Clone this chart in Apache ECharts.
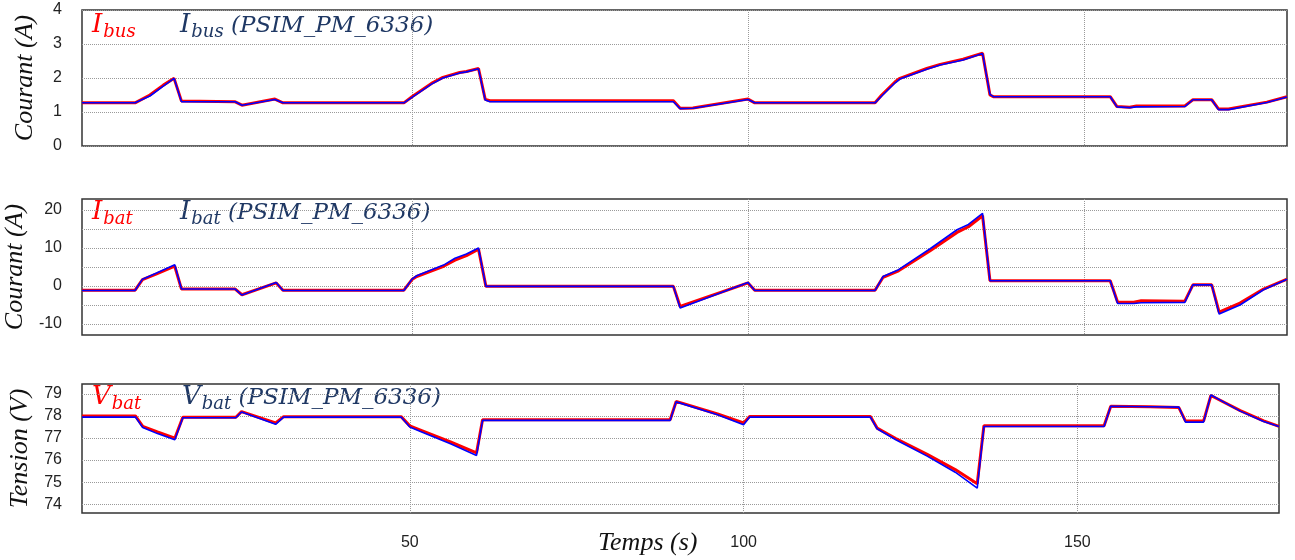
<!DOCTYPE html>
<html>
<head>
<meta charset="utf-8">
<script src="https://cdn.jsdelivr.net/npm/echarts@6/dist/echarts.min.js"></script>
<style>
  html, body { margin: 0; padding: 0; background: #fff; }
  #chart { width: 1295px; height: 560px; }
</style>
</head>
<body>
<div id="chart"></div>
<script>
// time (s) and values
var ibusTime = [0.9, 8.8, 11.0, 13.0, 14.6, 15.7, 23.7, 24.7, 29.6, 30.8, 48.8, 50.0, 52.9, 54.6, 57.1, 58.1, 59.9, 60.9, 61.6, 88.9, 89.9, 91.8, 100.0, 101.0, 118.9, 119.9, 121.9, 122.6, 126.6, 128.6, 132.0, 134.9, 136.0, 136.5, 153.9, 154.9, 156.8, 157.8, 165.0, 166.2, 169.0, 170.0, 171.5, 177.2, 180.2];
var ibusModel = [1.27, 1.27, 1.5, 1.79, 1.99, 1.32, 1.3, 1.2, 1.38, 1.27, 1.27, 1.45, 1.84, 2.02, 2.16, 2.19, 2.28, 1.37, 1.33, 1.33, 1.11, 1.12, 1.38, 1.27, 1.27, 1.5, 1.89, 1.99, 2.28, 2.4, 2.55, 2.73, 1.5, 1.45, 1.45, 1.16, 1.14, 1.18, 1.18, 1.36, 1.36, 1.09, 1.09, 1.29, 1.45];
var ibusPsim = [1.27, 1.27, 1.47, 1.76, 1.99, 1.3, 1.3, 1.2, 1.37, 1.27, 1.27, 1.43, 1.82, 2.0, 2.15, 2.18, 2.27, 1.35, 1.3, 1.3, 1.1, 1.11, 1.37, 1.27, 1.27, 1.47, 1.86, 1.97, 2.26, 2.38, 2.53, 2.72, 1.52, 1.45, 1.45, 1.15, 1.13, 1.15, 1.16, 1.36, 1.36, 1.07, 1.07, 1.28, 1.44];

var ibatTime = [0.9, 8.8, 9.9, 12.0, 14.7, 15.7, 23.7, 24.7, 29.8, 30.8, 48.8, 50.0, 50.7, 54.7, 56.4, 58.1, 59.9, 61.0, 88.9, 89.9, 100.0, 101.0, 118.9, 120.1, 122.4, 127.1, 131.1, 132.8, 134.9, 136.0, 153.9, 155.0, 157.4, 158.5, 165.0, 166.2, 169.0, 170.1, 173.2, 176.7, 180.2];
var ibatModel = [-1.1, -1.1, 1.7, 3.2, 5.2, -0.8, -0.8, -2.3, 0.8, -1.1, -1.1, 1.7, 2.5, 5.2, 6.8, 8.0, 9.7, -0.1, -0.1, -5.4, 0.8, -1.1, -1.1, 2.3, 4.0, 9.3, 14.1, 15.6, 18.5, 1.4, 1.4, -4.3, -4.3, -3.9, -4.0, 0.3, 0.3, -6.9, -4.5, -0.8, 1.8];
var ibatPsim = [-1.2, -1.2, 1.8, 3.4, 5.6, -0.8, -0.8, -2.4, 0.9, -1.2, -1.2, 1.8, 2.7, 5.5, 7.3, 8.4, 10.0, -0.1, -0.1, -5.8, 0.9, -1.2, -1.2, 2.5, 4.3, 9.8, 14.8, 16.2, 19.1, 1.4, 1.4, -4.6, -4.6, -4.4, -4.3, 0.3, 0.3, -7.4, -5.0, -1.0, 1.8];

var vbatTime = [0.9, 8.9, 10.0, 12.2, 14.8, 16.0, 23.95, 24.8, 29.9, 31.1, 48.7, 50.0, 51.6, 56.1, 60.0, 60.9, 89.0, 89.9, 96.1, 100.0, 100.9, 119.0, 120.0, 122.8, 127.5, 131.7, 135.0, 136.0, 154.0, 155.0, 160.9, 165.2, 166.2, 168.9, 170.0, 174.4, 177.9, 180.2];
var vbatModel = [78.0, 78.0, 77.53, 77.28, 76.99, 77.94, 77.94, 78.2, 77.68, 77.97, 77.97, 77.55, 77.36, 76.82, 76.33, 77.83, 77.83, 78.66, 78.09, 77.68, 77.98, 77.98, 77.45, 76.98, 76.26, 75.57, 74.93, 77.56, 77.56, 78.44, 78.42, 78.38, 77.77, 77.77, 78.93, 78.24, 77.78, 77.53];
var vbatPsim = [77.95, 77.95, 77.48, 77.2, 76.92, 77.92, 77.92, 78.18, 77.62, 77.95, 77.95, 77.5, 77.3, 76.74, 76.21, 77.8, 77.8, 78.64, 78.06, 77.6, 77.95, 77.95, 77.42, 76.92, 76.18, 75.45, 74.73, 77.52, 77.52, 78.44, 78.42, 78.4, 77.72, 77.72, 78.95, 78.22, 77.75, 77.52];

// tick labels
var timeTicks = [50, 100, 150];
var ibatTicks = [-10, -5, 0, 5, 10, 15, 20];
var ibatLabels = [-10, 0, 10, 20];
var vbatTicks = [74, 75, 76, 77, 78, 79];

var red = '#ff0000';
var blue = '#0000ff';
var navy = '#1f3864';
var gridColor = '#9a9a9a';
var labelFont = '"Liberation Sans", Arial, sans-serif';
var serif = '"Liberation Serif", "Times New Roman", serif';
var mathFont = '"DejaVu Serif", serif';

function pairs(t, v) {
  return t.map(function(x, i) { return [x, v[i]]; });
}

function xAxisFor(idx, showLabels) {
  return {
    type: 'value',
    gridIndex: idx,
    min: 0.9,
    max: 180.2,
    axisLine: { show: false },
    axisTick: { show: false, customValues: timeTicks },
    axisLabel: {
      show: showLabels,
      customValues: timeTicks,
      color: '#222',
      fontSize: 16,
      fontFamily: labelFont,
      margin: 22
    },
    splitLine: { show: true, lineStyle: { color: gridColor, type: 'dotted', width: 1 } }
  };
}

function yAxisFor(idx, opts) {
  var ax = {
    type: 'value',
    gridIndex: idx,
    min: opts.min,
    max: opts.max,
    name: opts.name,
    nameLocation: 'middle',
    nameRotate: 90,
    nameGap: 44,
    nameTextStyle: { fontFamily: serif, fontStyle: 'italic', fontSize: 26, color: '#111' },
    axisLine: { show: false },
    axisTick: { show: false },
    axisLabel: { color: '#222', fontSize: 16, fontFamily: labelFont, margin: 20 },
    splitLine: { show: true, lineStyle: { color: gridColor, type: 'dotted', width: 1 } }
  };
  if (opts.interval) ax.interval = opts.interval;
  if (opts.ticks) {
    ax.axisTick.customValues = opts.ticks;
    ax.axisLabel.customValues = opts.labels;
  }
  return ax;
}

function lineSeries(name, t, v, idx, color, width) {
  return {
    name: name,
    type: 'line',
    xAxisIndex: idx,
    yAxisIndex: idx,
    data: pairs(t, v),
    showSymbol: false,
    lineStyle: { color: color, width: width },
    itemStyle: { color: color }
  };
}

function legendText(x, y, sym, sub, color, tail) {
  var text = '{i|' + sym + '}{s|' + sub + '}' + (tail ? '{t|' + tail + '}' : '');
  return {
    type: 'text',
    left: x,
    top: y,
    style: {
      text: text,
      fill: color,
      rich: {
        i: { fontFamily: mathFont, fontStyle: 'italic', fontSize: 26, fill: color, padding: [0, 1, 3, 0], verticalAlign: 'bottom' },
        s: { fontFamily: mathFont, fontStyle: 'italic', fontSize: 18, fill: color, verticalAlign: 'bottom' },
        t: { fontFamily: mathFont, fontStyle: 'italic', fontSize: 23, fill: color, padding: [0, 0, 3, 0], verticalAlign: 'bottom' }
      }
    }
  };
}

function gridBox(top, height, right) {
  return {
    left: 82, right: right, top: top, height: height,
    outerBoundsMode: 'none',
    containLabel: false,
    show: true, borderColor: '#333', borderWidth: 1.5, backgroundColor: 'transparent'
  };
}

var chart = echarts.init(document.getElementById('chart'), null, { renderer: 'canvas' });
chart.setOption({
  animation: false,
  backgroundColor: '#fff',
  grid: [gridBox(10, 136, 8), gridBox(199, 136, 8), gridBox(384, 129, 16)],
  xAxis: [xAxisFor(0, false), xAxisFor(1, false), xAxisFor(2, true)],
  yAxis: [
    yAxisFor(0, { min: 0, max: 4, interval: 1, name: 'Courant (A)' }),
    yAxisFor(1, { min: -12.9, max: 22.9, ticks: ibatTicks, labels: ibatLabels, name: 'Courant (A)' }),
    yAxisFor(2, { min: 73.6, max: 79.45, ticks: vbatTicks, labels: vbatTicks, name: 'Tension (V)' })
  ],
  series: [
    lineSeries('Ibus', ibusTime, ibusModel, 0, red, 3),
    lineSeries('Ibus (PSIM_PM_6336)', ibusTime, ibusPsim, 0, blue, 1.6),
    lineSeries('Ibat', ibatTime, ibatModel, 1, red, 3),
    lineSeries('Ibat (PSIM_PM_6336)', ibatTime, ibatPsim, 1, blue, 1.6),
    lineSeries('Vbat', vbatTime, vbatModel, 2, red, 3),
    lineSeries('Vbat (PSIM_PM_6336)', vbatTime, vbatPsim, 2, blue, 1.6)
  ],
  graphic: [
    legendText(92, 12, 'I', 'bus', red),
    legendText(180, 12, 'I', 'bus', navy, ' (PSIM_PM_6336)'),
    legendText(92, 199, 'I', 'bat', red),
    legendText(180, 199, 'I', 'bat', navy, ' (PSIM_PM_6336)'),
    legendText(92, 384, 'V', 'bat', red),
    legendText(182, 384, 'V', 'bat', navy, ' (PSIM_PM_6336)'),
    {
      type: 'text',
      left: 598,
      top: 530,
      style: { text: 'Temps (s)', fontFamily: serif, fontStyle: 'italic', fontSize: 26, fill: '#111' }
    }
  ]
});
window.addEventListener('resize', function() { chart.resize(); });
</script>
</body>
</html>
